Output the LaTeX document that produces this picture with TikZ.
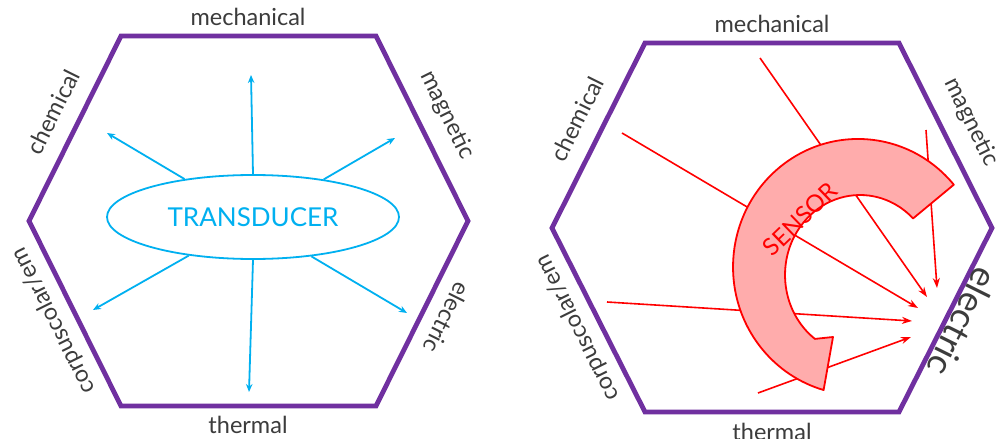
\documentclass[tikz,border=0pt]{standalone}
\usepackage{fontspec}
\setmainfont{Lato}
\usetikzlibrary{shapes.geometric,arrows.meta}
\definecolor{hexpurple}{RGB}{112,48,160}
\definecolor{tblue}{RGB}{0,176,240}
\definecolor{labelgray}{RGB}{60,60,60}
\definecolor{sred}{RGB}{255,0,0}
\definecolor{spink}{RGB}{255,172,172}
\begin{document}
\begin{tikzpicture}[x=1pt,y=1pt,
  hexline/.style={draw=hexpurple,line width=4.8pt,line join=miter},
  lbl/.style={text=labelgray,font=\fontsize{23.5}{23.5}\selectfont,inner sep=0pt},
  bluearrow/.style={draw=tblue,line width=1.8pt,-{Stealth[length=8pt,width=6.5pt]}},
  redarrow/.style={draw=sred,line width=1.6pt,-{Stealth[length=10pt,width=7pt]}},
]
\useasboundingbox (0,0) rectangle (997,-439);
\fill[white] (0,0) rectangle (997,-439);

% ---------- left hexagon ----------
\coordinate (L1) at (121,-36);
\coordinate (L2) at (376,-36);
\coordinate (L3) at (468,-221);
\coordinate (L4) at (376,-406);
\coordinate (L5) at (121,-406);
\coordinate (L6) at (29,-221);
\draw[hexline] (L1) -- (L2) -- (L3) -- (L4) -- (L5) -- (L6) -- cycle;

\node[lbl] (lmech) at (248,-17) {mechanical};
\node[lbl] (ltherm) at (248,-425) {thermal};
\node[lbl,rotate=63.6] (lchem) at (53,-112) {chemical};
\node[lbl,rotate=-63.6] (lmag) at (447,-115) {magnetic};
\node[lbl,rotate=116.4] (lcorp) at (54,-321) {corpuscolar/em};
\node[lbl,rotate=-116.4] (lelec) at (447,-318) {electric};

\node[ellipse,draw=tblue,line width=1.8pt,minimum width=292pt,minimum height=84pt,
      inner sep=0pt,text=tblue,font=\fontsize{26}{26}\selectfont] (tr) at (253,-217) {TRANSDUCER};

\coordinate (tu) at (251,-75);
\coordinate (td) at (249,-392);
\coordinate (tul) at (107,-133);
\coordinate (tur) at (395,-138);
\coordinate (tdl) at (93,-310);
\coordinate (tdr) at (407,-313);
\draw[bluearrow] (tr.90) -- (tu);
\draw[bluearrow] (tr.270) -- (td);
\draw[bluearrow] (tr.151) -- (tul);
\draw[bluearrow] (tr.28.4) -- (tur);
\draw[bluearrow] (tr.211.6) -- (tdl);
\draw[bluearrow] (tr.326.3) -- (tdr);

% ---------- right hexagon ----------
\coordinate (R1) at (645,-43);
\coordinate (R2) at (899,-43);
\coordinate (R3) at (992,-228);
\coordinate (R4) at (899,-412);
\coordinate (R5) at (645,-412);
\coordinate (R6) at (552,-228);
\draw[hexline] (R1) -- (R2) -- (R3) -- (R4) -- (R5) -- (R6) -- cycle;

\node[lbl] (rmech) at (772,-24) {mechanical};
\node[lbl] (rtherm) at (772,-432) {thermal};
\node[lbl,rotate=63.6] (rchem) at (577,-119) {chemical};
\node[lbl,rotate=-63.6] (rmag) at (971,-122) {magnetic};
\node[lbl,rotate=116.4] (rcorp) at (578,-328) {corpuscolar/em};
\node[lbl,rotate=-116.4,font=\fontsize{36}{36}\selectfont] (relec) at (963,-322) {electric};

\coordinate (s1) at (760,-58);  \coordinate (e1) at (927,-297);
\coordinate (s2) at (926,-130); \coordinate (e2) at (937,-288);
\coordinate (s3) at (622,-133); \coordinate (e3) at (918,-308);
\coordinate (s4) at (607,-302); \coordinate (e4) at (912,-321);
\coordinate (s5) at (758,-393); \coordinate (e5) at (911,-337);
\draw[redarrow] (s1) -- (e1);
\draw[redarrow] (s2) -- (e2);
\draw[redarrow] (s3) -- (e3);
\draw[redarrow] (s4) -- (e4);
\draw[redarrow] (s5) -- (e5);

% sensor band
\filldraw[draw=sred,fill=spink,line width=1.8pt,line join=round]
  (953.8,-184.7) arc[start angle=40,end angle=254,x radius=125pt,y radius=128pt]
  -- (833,-337) -- (814.9,-338.9)
  arc[start angle=233,end angle=45,x radius=75pt,y radius=80pt] -- cycle;
\node[rotate=44,text=sred,font=\fontsize{24}{24}\selectfont,inner sep=0pt] (sensor) at (800,-219) {SENSOR};
\end{tikzpicture}
\end{document}
